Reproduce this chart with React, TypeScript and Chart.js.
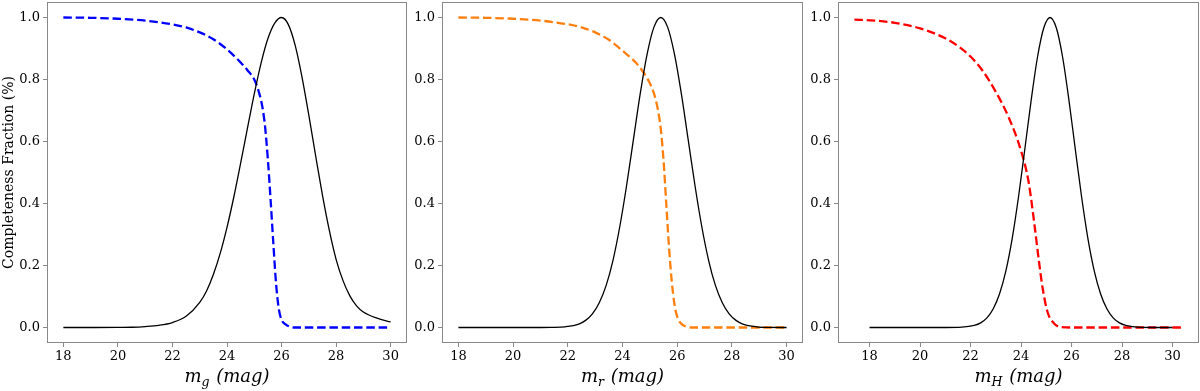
import React, { useEffect, useRef } from 'react';
import { Chart, registerables } from 'chart.js';

Chart.register(...registerables);

// ---------- tick labels ----------
const xTickValues = [18, 20, 22, 24, 26, 28, 30];
const yTickValues = [0, 0.2, 0.4, 0.6, 0.8, 1.0];
const yAxisTitle = 'Completeness Fraction (%)';

// ---------- panel 1 : g band ----------
const gCompMag = [18, 19, 20, 21, 22, 22.5, 23, 23.5, 24, 24.5, 24.75, 25, 25.15, 25.3, 25.4, 25.5, 25.6, 25.7, 25.8, 25.9, 26.0, 26.15, 26.3, 26.5, 30];
const gCompFrac = [1.0, 0.999, 0.996, 0.99, 0.978, 0.968, 0.952, 0.93, 0.897, 0.855, 0.83, 0.8, 0.765, 0.71, 0.645, 0.54, 0.41, 0.27, 0.14, 0.06, 0.025, 0.01, 0.003, 0, 0];
const gDistMag = [18, 19, 20, 20.5, 21, 21.5, 22, 22.5, 23, 23.25, 23.5, 23.75, 24, 24.25, 24.5, 24.75, 25, 25.25, 25.5, 25.75, 26, 26.25, 26.5, 26.75, 27, 27.25, 27.5, 27.75, 28, 28.25, 28.5, 28.75, 29, 29.5, 30];
const gDistVal = [0, 0, 0.0002, 0.0008, 0.003, 0.007, 0.016, 0.036, 0.081, 0.118, 0.171, 0.239, 0.323, 0.421, 0.53, 0.643, 0.754, 0.853, 0.932, 0.982, 1.0, 0.977, 0.91, 0.808, 0.685, 0.554, 0.427, 0.314, 0.22, 0.152, 0.103, 0.07, 0.05, 0.03, 0.018];

// ---------- panel 2 : r band ----------
const rCompMag = [18, 19, 20, 21, 22, 22.5, 23, 23.5, 24, 24.5, 24.75, 25, 25.15, 25.3, 25.4, 25.5, 25.6, 25.7, 25.8, 25.9, 26.0, 26.15, 26.3, 26.5, 30];
const rCompFrac = [1.0, 0.999, 0.996, 0.99, 0.978, 0.968, 0.952, 0.928, 0.893, 0.853, 0.825, 0.788, 0.755, 0.7, 0.64, 0.54, 0.4, 0.26, 0.15, 0.075, 0.035, 0.012, 0.004, 0, 0];
const rDistMag = [18, 21, 21.4, 21.9, 22.4, 22.65, 22.9, 23.15, 23.4, 23.65, 23.9, 24.15, 24.4, 24.65, 24.9, 25.15, 25.4, 25.65, 25.9, 26.15, 26.4, 26.65, 26.9, 27.15, 27.4, 27.65, 27.9, 28.15, 28.4, 28.9, 29.4, 30];
const rDistVal = [0, 0, 0.0003, 0.0022, 0.011, 0.023, 0.044, 0.08, 0.135, 0.216, 0.325, 0.458, 0.607, 0.755, 0.882, 0.969, 1.0, 0.969, 0.882, 0.755, 0.607, 0.458, 0.325, 0.216, 0.135, 0.08, 0.044, 0.023, 0.011, 0.0022, 0.0003, 0];

// ---------- panel 3 : H band ----------
const hCompMag = [17.4, 18, 19, 20, 21, 21.5, 22, 22.5, 23, 23.5, 24, 24.3, 24.55, 24.7, 24.85, 25.05, 25.3, 25.6, 26, 30.4];
const hCompFrac = [0.993, 0.991, 0.983, 0.965, 0.933, 0.908, 0.874, 0.826, 0.76, 0.68, 0.57, 0.47, 0.32, 0.22, 0.13, 0.05, 0.014, 0.001, 0, 0];
const hDistMag = [18, 21, 21.65, 22.15, 22.4, 22.65, 22.9, 23.15, 23.4, 23.65, 23.9, 24.15, 24.4, 24.65, 24.9, 25.15, 25.4, 25.65, 25.9, 26.15, 26.4, 26.65, 26.9, 27.15, 27.4, 27.65, 27.9, 28.15, 28.65, 29.2, 30];
const hDistVal = [0, 0, 0.0011, 0.0068, 0.015, 0.031, 0.0605, 0.109, 0.183, 0.287, 0.421, 0.575, 0.732, 0.871, 0.966, 1.0, 0.966, 0.871, 0.732, 0.575, 0.421, 0.287, 0.183, 0.109, 0.0605, 0.031, 0.015, 0.0068, 0.0011, 0, 0];

const AXIS_COLOR = '#888888';
const TICK_FONT = { family: 'DejaVu Serif', size: 13 };

function toPoints(xs: number[], ys: number[]) {
  return xs.map((x, i) => ({ x, y: ys[i] }));
}

type PanelProps = {
  left: number;
  width: number;
  yAxisWidth: number;
  padRight: number;
  xMin: number;
  xMax: number;
  compMag: number[];
  compFrac: number[];
  compColor: string;
  distMag: number[];
  distVal: number[];
  sub: string;
  showYTitle: boolean;
};

function Panel(p: PanelProps) {
  const ref = useRef<HTMLCanvasElement>(null);
  useEffect(() => {
    const framePlugin = {
      id: 'frame',
      afterDatasetsDraw(chart: any) {
        const { left, right, top, bottom } = chart.chartArea;
        const ctx = chart.ctx;
        ctx.save();
        ctx.strokeStyle = AXIS_COLOR;
        ctx.lineWidth = 1;
        ctx.strokeRect(Math.round(left) + 0.5, Math.round(top) + 0.5, Math.round(right - left) - 1, Math.round(bottom - top) - 1);
        ctx.restore();
      },
    };
    const labelPlugin = {
      id: 'labels',
      afterDraw(chart: any) {
        const ctx = chart.ctx;
        const { left, right, top, bottom } = chart.chartArea;
        ctx.save();
        ctx.fillStyle = '#000';
        ctx.textBaseline = 'alphabetic';
        ctx.textAlign = 'left';
        const big = 'italic 18px "DejaVu Serif"';
        const small = 'italic 12.5px "DejaVu Serif"';
        ctx.font = big;
        const wm = ctx.measureText('m').width;
        ctx.font = small;
        const ws = ctx.measureText(p.sub).width;
        ctx.font = big;
        const rest = ' (mag)';
        const wr = ctx.measureText(rest).width;
        const total = wm + ws + 1 + wr;
        let x = (left + right) / 2 - total / 2;
        const base = 382;
        ctx.font = big;
        ctx.fillText('m', x, base);
        x += wm;
        ctx.font = small;
        ctx.fillText(p.sub, x, base + 4);
        x += ws + 1;
        ctx.font = big;
        ctx.fillText(rest, x, base);
        if (p.showYTitle) {
          ctx.save();
          ctx.translate(9, (top + bottom) / 2);
          ctx.rotate(-Math.PI / 2);
          ctx.font = '14px "DejaVu Serif"';
          ctx.textAlign = 'center';
          ctx.textBaseline = 'middle';
          ctx.fillText(yAxisTitle, 0, 0);
          ctx.restore();
        }
        ctx.restore();
      },
    };
    const chart = new Chart(ref.current as HTMLCanvasElement, {
      type: 'line',
      data: {
        datasets: [
          {
            data: toPoints(p.distMag, p.distVal),
            borderColor: '#000000',
            borderWidth: 1.3,
            pointRadius: 0,
            cubicInterpolationMode: 'monotone',
            fill: false,
          },
          {
            data: toPoints(p.compMag, p.compFrac),
            borderColor: p.compColor,
            borderWidth: 2.3,
            borderDash: [8.5, 3.8],
            pointRadius: 0,
            cubicInterpolationMode: 'monotone',
            fill: false,
          },
        ],
      } as any,
      options: {
        responsive: false,
        animation: false,
        layout: { padding: { top: 2, right: p.padRight, left: 0, bottom: 0 } },
        plugins: { legend: { display: false }, tooltip: { enabled: false } },
        scales: {
          x: {
            type: 'linear',
            min: p.xMin,
            max: p.xMax,
            afterBuildTicks: (s: any) => {
              s.ticks = xTickValues.map((v) => ({ value: v }));
            },
            afterFit: (s: any) => {
              s.height = 48;
              s.paddingLeft = 0;
              s.paddingRight = 0;
            },
            grid: { display: true, drawOnChartArea: false, drawTicks: true, tickLength: 4, color: AXIS_COLOR },
            border: { display: false },
            ticks: {
              font: TICK_FONT,
              color: '#000',
              padding: 2,
              maxRotation: 0,
              autoSkip: false,
              callback: (v: any) => String(v),
            },
          },
          y: {
            type: 'linear',
            min: -0.05,
            max: 1.05,
            afterBuildTicks: (s: any) => {
              s.ticks = yTickValues.map((v) => ({ value: v }));
            },
            afterFit: (s: any) => {
              s.width = p.yAxisWidth;
              s.paddingTop = 0;
              s.paddingBottom = 0;
            },
            grid: { display: true, drawOnChartArea: false, drawTicks: true, tickLength: 4, color: AXIS_COLOR },
            border: { display: false },
            ticks: {
              font: TICK_FONT,
              color: '#000',
              padding: 3,
              autoSkip: false,
              callback: (v: any) => Number(v).toFixed(1),
            },
          },
        },
      } as any,
      plugins: [framePlugin, labelPlugin],
    });
    return () => chart.destroy();
  }, []);
  return (
    <canvas
      ref={ref}
      width={p.width}
      height={391}
      style={{ position: 'absolute', left: p.left, top: 0, width: p.width, height: 391 }}
    />
  );
}

export default function App() {
  return (
    <div style={{ position: 'fixed', left: 0, top: 0, width: 1200, height: 391, background: '#fff', overflow: 'hidden' }}>
      <Panel left={0} width={410} yAxisWidth={47} padRight={3} xMin={17.4} xMax={30.6}
        compMag={gCompMag} compFrac={gCompFrac} compColor="#0000ff"
        distMag={gDistMag} distVal={gDistVal} sub="g" showYTitle={true} />
      <Panel left={410} width={400} yAxisWidth={32} padRight={7} xMin={17.4} xMax={30.6}
        compMag={rCompMag} compFrac={rCompFrac} compColor="#ff7f0e"
        distMag={rDistMag} distVal={rDistVal} sub="r" showYTitle={false} />
      <Panel left={810} width={390} yAxisWidth={28} padRight={1} xMin={16.75} xMax={31.05}
        compMag={hCompMag} compFrac={hCompFrac} compColor="#ff0000"
        distMag={hDistMag} distVal={hDistVal} sub="H" showYTitle={false} />
    </div>
  );
}
